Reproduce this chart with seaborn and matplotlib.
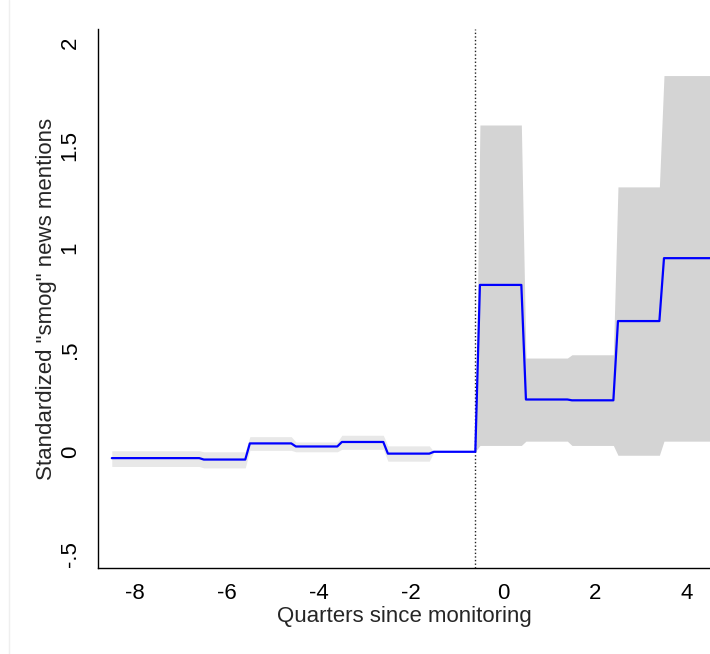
import numpy as np
import pandas as pd
import matplotlib
matplotlib.use("Agg")
import matplotlib.pyplot as plt
from matplotlib.lines import Line2D
import seaborn as sns

# Event-study estimates by quarter relative to monitoring start
quarters = [-8, -7, -6, -5, -4, -3, -2, -1, 0, 1, 2, 3, 4]
coef = [-0.031, -0.031, -0.038, 0.041, 0.026, 0.048, -0.009, 0.0,
        0.817, 0.256, 0.252, 0.640, 0.948]
ci_lo = [-0.072, -0.072, -0.079, 0.007, 0.000, 0.012, -0.046, 0.0,
         0.031, 0.052, 0.031, -0.017, 0.052]
ci_hi = [0.005, 0.005, 0.000, 0.074, 0.048, 0.081, 0.029, 0.0,
         1.600, 0.459, 0.475, 1.297, 1.842]

x_ticks = [-8, -6, -4, -2, 0, 2, 4]
y_ticks = [-0.5, 0, 0.5, 1, 1.5, 2]
y_ticklabels = ["-.5", "0", ".5", "1", "1.5", "2"]

# Each quarter is drawn as a flat step spanning [q - 0.5, q + 0.4];
# the final quarter runs on to the edge of the plot
rows = []
for i, (q, b, lo, hi) in enumerate(zip(quarters, coef, ci_lo, ci_hi)):
    end = 0.5 if i == len(quarters) - 1 else 0.4
    for off in (-0.5, end):
        rows.append({"x": q + off, "quarter": q, "coef": b, "lo": lo, "hi": hi})
steps = pd.DataFrame(rows)

sns.set_style("white")
plt.rcParams["font.family"] = ["Liberation Sans", "DejaVu Sans"]

fig = plt.figure(figsize=(7.10, 6.54), dpi=100)
ax = fig.add_axes([98 / 710, 1 - 568 / 654, 612 / 710, (568 - 29) / 654])

pre = steps[steps["quarter"] <= -1]
post = steps.iloc[steps.index[steps["quarter"] == -1][-1]:]
ax.fill_between(pre["x"], pre["lo"], pre["hi"], color="#e8e8e8", lw=0, zorder=1)
ax.fill_between(post["x"], post["lo"], post["hi"], color="#d4d4d4", lw=0, zorder=1)

sns.lineplot(data=steps, x="x", y="coef", sort=False, estimator=None,
             color="#0000ff", lw=1.6, ax=ax, zorder=3)

ax.axvline(-0.6, color="#222222", lw=1.0, ls=(0, (1, 1.6)), zorder=2)

ax.set_xlim(-8.8, 4.5)
ax.set_ylim(-0.569, 2.07)
ax.set_xticks(x_ticks)
ax.set_xticklabels([str(t) for t in x_ticks])
ax.set_yticks(y_ticks)
ax.set_yticklabels(y_ticklabels, rotation=90, va="center")

for s in ("top", "right"):
    ax.spines[s].set_visible(False)
for s in ("left", "bottom"):
    ax.spines[s].set_color("black")
    ax.spines[s].set_linewidth(1.0)

ax.tick_params(axis="both", direction="out", length=6.5, width=1.0,
               color="black", labelsize=16, labelcolor="black", pad=4)
ax.tick_params(axis="y", pad=6)
ax.set_xlabel("Quarters since monitoring", fontsize=16, labelpad=2)
ax.set_ylabel('Standardized "smog" news mentions', fontsize=16, labelpad=2)
ax.grid(False)

# faint frame edge at the left of the canvas
fig.add_artist(Line2D([9 / 710, 9 / 710], [0, 1], transform=fig.transFigure,
                      color="#efefef", lw=1))

fig.savefig("out.png", dpi=100, facecolor="white")
